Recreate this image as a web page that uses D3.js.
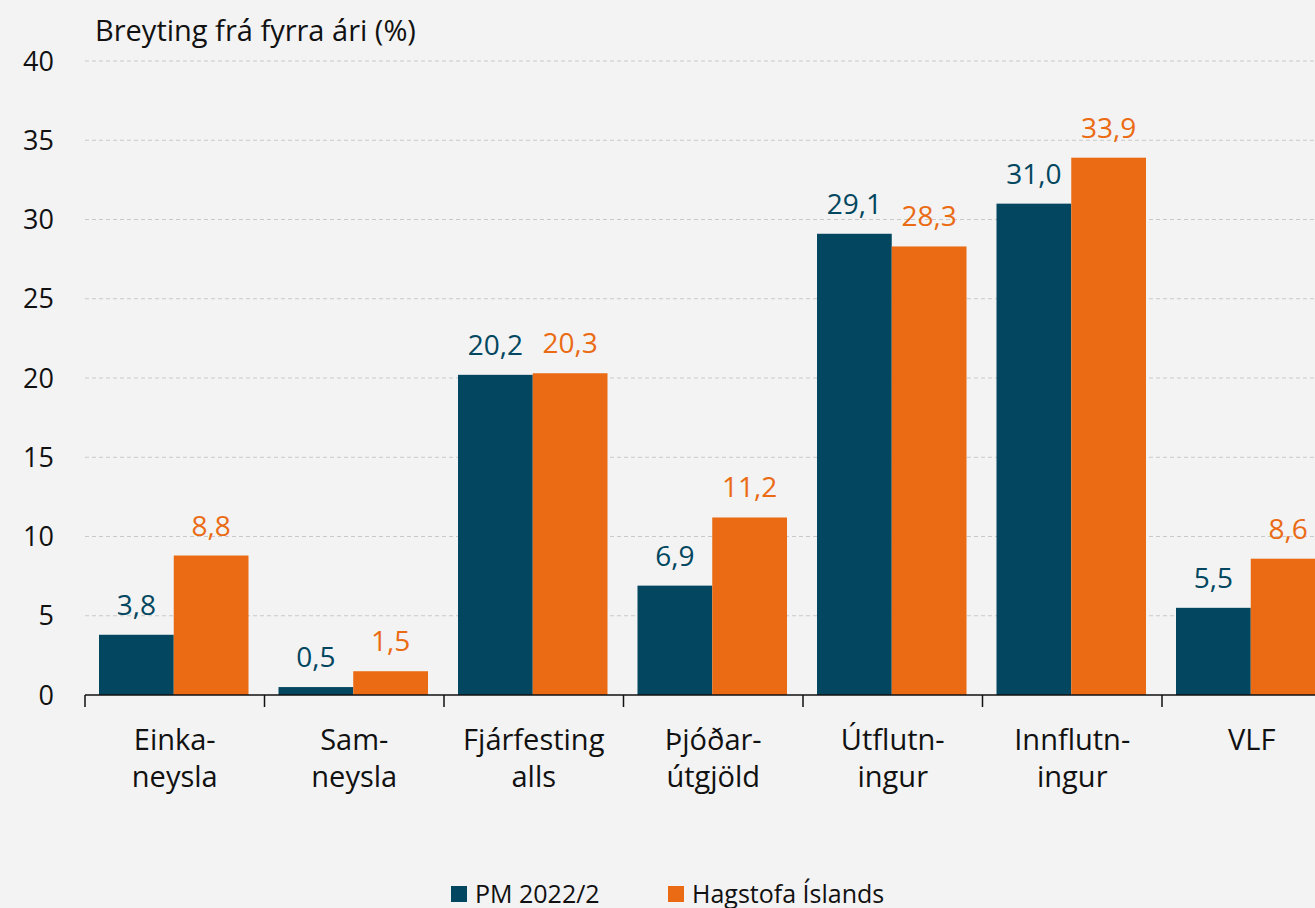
<!DOCTYPE html>
<html>
<head>
<meta charset="utf-8">
<script src="https://cdn.jsdelivr.net/npm/d3@7"></script>
<style>
  body { margin: 0; background: #f3f3f3; }
  svg { display: block; font-family: "Open Sans", Lato, sans-serif; }
</style>
</head>
<body>
<svg id="chart" width="1315" height="908"></svg>
<script>
var categories = [["Einka-", "neysla"], ["Sam-", "neysla"], ["Fjárfesting", "alls"], ["Þjóðar-", "útgjöld"], ["Útflutn-", "ingur"], ["Innflutn-", "ingur"], ["VLF"]];
var seriesNames = ["PM 2022/2", "Hagstofa Íslands"];
var pmValues = [3.8, 0.5, 20.2, 6.9, 29.1, 31.0, 5.5];
var hagValues = [8.8, 1.5, 20.3, 11.2, 28.3, 33.9, 8.6];
var yTicks = [0, 5, 10, 15, 20, 25, 30, 35, 40];
var colors = ["#02475f", "#ea6b14"];

var svg = d3.select("#chart");
svg.append("rect").attr("width", 1315).attr("height", 908).attr("fill", "#f3f3f3");

var left = 85, bandW = 179.5;
var x = d3.scaleBand()
    .domain(d3.range(categories.length))
    .range([left, left + bandW * categories.length])
    .paddingInner(0).paddingOuter(0);
var y = d3.scaleLinear().domain([0, 40]).range([695, 61]);
var sub = d3.scaleBand().domain([0, 1]).range([14, bandW - 16]);

// gridlines
svg.append("g").selectAll("line")
  .data(yTicks.filter(function (d) { return d > 0; }))
  .enter().append("line")
  .attr("x1", left).attr("x2", 1315)
  .attr("y1", function (d) { return y(d); }).attr("y2", function (d) { return y(d); })
  .attr("stroke", "#c9c9c9").attr("stroke-width", 1).attr("stroke-dasharray", "4,3");

// y labels
svg.append("g").selectAll("text")
  .data(yTicks).enter().append("text")
  .attr("x", 54).attr("y", function (d) { return y(d); })
  .attr("dy", "0.36em").attr("text-anchor", "end")
  .attr("font-size", 27).attr("fill", "#111")
  .text(function (d) { return d; });

svg.append("text").attr("x", 95).attr("y", 41)
  .attr("font-size", 29).attr("fill", "#111")
  .text("Breyting frá fyrra ári (%)");

var data = [pmValues, hagValues];
data.forEach(function (vals, s) {
  var g = svg.append("g");
  g.selectAll("rect").data(vals).enter().append("rect")
    .attr("x", function (d, i) { return x(i) + sub(s); })
    .attr("width", sub.bandwidth())
    .attr("y", function (d) { return y(d); })
    .attr("height", function (d) { return y(0) - y(d); })
    .attr("fill", colors[s]);
  g.selectAll("text").data(vals).enter().append("text")
    .attr("x", function (d, i) { return x(i) + sub(s) + sub.bandwidth() / 2; })
    .attr("y", function (d) { return y(d) - 20; })
    .attr("text-anchor", "middle").attr("font-size", 28)
    .attr("fill", colors[s])
    .text(function (d) { return d3.format(".1f")(d).replace(".", ","); });
});

// x axis
svg.append("line").attr("x1", left).attr("x2", 1315)
  .attr("y1", 695).attr("y2", 695).attr("stroke", "#111").attr("stroke-width", 1.5);
svg.append("g").selectAll("line")
  .data(d3.range(categories.length + 1)).enter().append("line")
  .attr("x1", function (i) { return left + bandW * i; })
  .attr("x2", function (i) { return left + bandW * i; })
  .attr("y1", 695).attr("y2", 707)
  .attr("stroke", "#111").attr("stroke-width", 1.5);

var cat = svg.append("g").selectAll("text")
  .data(categories).enter().append("text")
  .attr("x", function (d, i) { return x(i) + bandW / 2; })
  .attr("y", 750).attr("text-anchor", "middle")
  .attr("font-size", 29).attr("fill", "#111");
cat.selectAll("tspan").data(function (d) { return d; }).enter().append("tspan")
  .attr("x", function () { return d3.select(this.parentNode).attr("x"); })
  .attr("dy", function (d, i) { return i === 0 ? 0 : 37; })
  .text(function (d) { return d; });

// legend
var legX = [451, 668];
seriesNames.forEach(function (name, s) {
  svg.append("rect").attr("x", legX[s]).attr("y", 886).attr("width", 16).attr("height", 16)
    .attr("fill", colors[s]);
  svg.append("text").attr("x", legX[s] + 24).attr("y", 903)
    .attr("font-size", 25).attr("fill", "#111").text(name);
});
</script>
</body>
</html>
